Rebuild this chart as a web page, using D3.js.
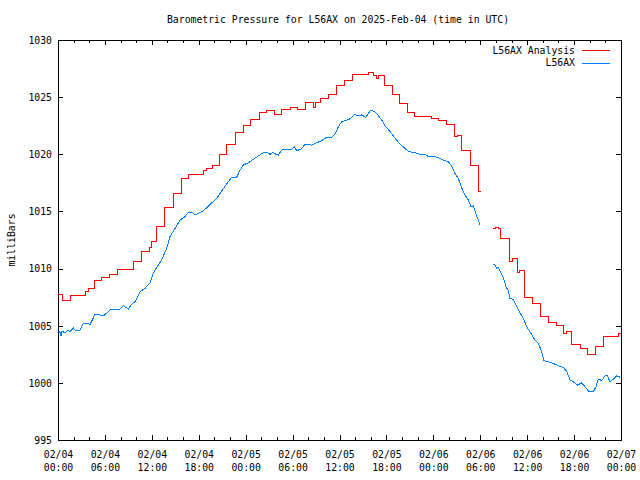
<!DOCTYPE html>
<html>
<head>
<meta charset="utf-8">
<script src="https://cdn.jsdelivr.net/npm/d3@7/dist/d3.min.js"></script>
<style>
  html, body { margin: 0; padding: 0; background: #fff; }
  svg { display: block; }
  text { font-family: "DejaVu Sans Mono", "Liberation Mono", monospace; font-size: 9.8px; fill: #000; }
</style>
</head>
<body>
<svg id="chart" width="640" height="480"></svg>
<script>
// ---- Data (hours since 2025-02-04 00:00 UTC) ----
const titleText = "Barometric Pressure for L56AX on 2025-Feb-04 (time in UTC)";
const yLabel = "milliBars";
const seriesNames = ["L56AX Analysis", "L56AX"];
const yTicks = [995, 1000, 1005, 1010, 1015, 1020, 1025, 1030];

// Analysis (step series); null marks the data gap
const redHours = [0.04, 0.55, 1.66, 3.58, 3.84, 4.64, 5.59, 6.65, 7.63, 9.68, 10.7, 11.64, 12.02, 12.62, 13.68, 14.74, 15.73, 16.66,
  18.67, 19.05, 19.82, 20.59, 21.57, 22.64, 23.7, 24.68, 25.74, 26.69, 27.66, 28.61, 29.67, 30.65, 31.68, 32.65, 32.96, 33.63, 34.57,
  35.66, 36.7, 37.69, 39.68, 40.41, 40.76, 41.05, 41.73, 42.75, 43.61, 44.72, 45.57, 47.79, 48.63, 49.71, 50.68, 51.12, 51.63, 52.69,
  53.75, 54.06, 54.5,
  55.6, 56.0, 56.3, 56.62, 57.72, 58.16, 58.74, 59.08, 59.72, 60.71, 61.73, 62.75, 63.78, 64.62, 65.06, 65.7, 66.76, 67.69, 68.8,
  69.74, 71.66, 72.0];
const redValues = [1007.75, 1007.25, 1007.66, 1008.0, 1008.27, 1009.0, 1009.2, 1009.5, 1009.9, 1010.6, 1011.5, 1011.86, 1012.4, 1013.7, 1015.36, 1016.6, 1017.84, 1018.2,
  1018.6, 1018.8, 1019.0, 1020.0, 1020.9, 1021.95, 1022.5, 1023.06, 1023.64, 1023.87, 1023.5, 1023.94, 1024.1, 1023.94, 1024.55, 1024.1, 1024.55, 1024.9, 1025.2,
  1026.0, 1026.5, 1027.0, 1027.2, 1026.9, 1026.6, 1026.9, 1026.06, 1025.2, 1024.43, 1023.67, 1023.32, 1023.15, 1023.0, 1022.65, 1021.54, 1021.66, 1020.3, 1019.0,
  1016.73, 1016.73, null,
  1013.5, 1013.6, 1013.5, 1012.65, 1010.6, 1010.9, 1009.64, 1009.8, 1007.5, 1006.96, 1005.85, 1005.3, 1005.06, 1004.33, 1004.48, 1003.4, 1003.0, 1002.5, 1003.2,
  1004.1, 1004.33, 1004.33];

// Observed series; null marks the data gap
const blueHours = [0.04, 0.26, 0.38, 0.51, 0.9, 1.28, 1.53, 1.96, 2.17, 2.81, 3.24, 3.87, 4.09, 4.31, 4.73, 5.15, 5.5, 5.88, 6.23, 6.65,
  7.07, 7.29, 7.93, 8.35, 8.99, 9.43, 9.85, 10.49, 11.13, 11.77, 12.19, 12.62, 13.26, 13.9, 14.32, 14.96, 15.6, 16.24, 16.66, 17.1,
  17.52, 17.9, 18.38, 18.71, 19.44, 20.3, 20.94, 21.57, 22.21, 22.85, 23.28, 23.7, 24.34, 24.98, 25.62, 26.26, 26.69, 27.11, 27.5,
  27.88, 28.17, 28.61, 29.25, 29.89, 30.22, 30.53, 31.17, 31.59, 32.44, 33.08, 33.72, 34.36, 35.0, 35.42, 35.85, 36.28, 36.92, 37.34,
  37.98, 38.4, 38.88, 39.35, 39.68, 40.03, 40.54, 40.96, 41.4, 41.82, 42.46, 43.1, 43.74, 44.38, 44.89, 45.66, 46.3, 46.94, 47.36,
  47.96, 48.63, 49.27, 49.91, 50.35, 50.77, 51.19, 51.54, 52.05, 52.47, 52.82, 53.13, 53.42, 53.75, 53.97, 54.5,
  55.67, 55.88, 56.1, 56.27, 56.53, 56.95, 57.29, 57.59, 57.8, 58.23, 58.66, 59.08, 59.51, 59.94, 60.36, 61.0, 61.42, 61.86, 62.15,
  62.7, 63.34, 63.98, 64.62, 65.06, 65.48, 65.9, 66.41, 66.97, 67.4, 67.91, 68.46, 68.8, 69.1, 69.53, 69.95, 70.25, 70.59, 70.97,
  71.45, 71.87];
const blueValues = [1004.56, 1004.4, 1004.13, 1004.5, 1004.4, 1004.6, 1004.45, 1004.83, 1004.6, 1004.6, 1005.2, 1005.2, 1005.1, 1005.4, 1006.0, 1006.0, 1005.9, 1005.9, 1006.1, 1006.38,
  1006.38, 1006.46, 1006.46, 1006.75, 1006.46, 1006.9, 1007.1, 1007.98, 1008.27, 1008.76, 1009.6, 1010.1, 1010.75, 1011.77, 1012.8, 1013.5, 1014.25, 1014.54, 1014.92, 1014.95,
  1014.7, 1014.8, 1014.98, 1015.13, 1015.6, 1016.15, 1016.8, 1017.4, 1017.99, 1018.0, 1018.6, 1019.06, 1019.26, 1019.56, 1019.85, 1020.14, 1020.2, 1020.0, 1020.15,
  1020.0, 1019.94, 1020.37, 1020.4, 1020.45, 1020.67, 1020.3, 1020.5, 1020.9, 1020.8, 1021.0, 1021.2, 1021.5, 1021.5, 1021.75, 1022.4, 1022.85, 1023.0, 1023.1,
  1023.5, 1023.35, 1023.45, 1023.2, 1023.58, 1023.87, 1023.7, 1023.4, 1023.0, 1022.5, 1021.98, 1021.4, 1020.9, 1020.5, 1020.23, 1020.14, 1020.0, 1019.98, 1019.8,
  1019.85, 1019.7, 1019.5, 1019.35, 1018.97, 1018.33, 1017.9, 1017.2, 1016.44, 1016.0, 1015.4, 1015.5, 1014.83, 1014.25, 1013.8, null,
  1010.37, 1010.3, 1010.0, 1010.1, 1009.8, 1009.24, 1008.4, 1008.1, 1007.4, 1007.3, 1006.67, 1006.14, 1005.65, 1004.9, 1004.48, 1003.75, 1003.46, 1002.73, 1001.94,
  1001.85, 1001.7, 1001.5, 1001.36, 1001.0, 1000.25, 1000.1, 999.8, 1000.0, 999.66, 999.23, 999.23, 999.66, 1000.34, 1000.2, 1000.6, 1000.65, 1000.1, 1000.3,
  1000.6, 1000.5];

// ---- Layout ----
const svg = d3.select("#chart");
const L = 58, R = 621, T = 40, B = 440;
const t0 = Date.UTC(2025, 1, 4);
const toDate = h => new Date(t0 + h * 3600e3);

const x = d3.scaleUtc().domain([new Date(t0), toDate(72)]).range([L, R]);
const y = d3.scaleLinear().domain([995, 1030]).range([B, T]);

const majorTicks = d3.utcHour.every(6).range(new Date(t0), toDate(72.01));
const minorTicks = d3.utcHour.every(2).range(new Date(t0), toDate(72.01)).filter(d => d.getUTCHours() % 6 !== 0);

function styleAxis(g) {
  g.select(".domain").remove();
  g.selectAll("line").attr("stroke", "#000").attr("shape-rendering", "crispEdges");
  g.attr("font-family", null).attr("font-size", null);
}

// bottom axis major with labels
const gb = svg.append("g").attr("transform", `translate(0,${B})`)
  .call(d3.axisBottom(x).tickValues(majorTicks).tickSize(-5).tickPadding(0).tickFormat(d3.utcFormat("%m/%d")))
  .call(styleAxis);
gb.selectAll(".tick text").each(function(d) {
  const t = d3.select(this);
  t.text(null).attr("y", null).attr("dy", null);
  t.append("tspan").attr("x", 0).attr("y", 18).text(d3.utcFormat("%m/%d")(d));
  t.append("tspan").attr("x", 0).attr("y", 31).text(d3.utcFormat("%H:%M")(d));
});
svg.append("g").attr("transform", `translate(0,${B})`)
  .call(d3.axisBottom(x).tickValues(minorTicks).tickSize(-3).tickFormat(""))
  .call(styleAxis);
// top axis (mirror)
svg.append("g").attr("transform", `translate(0,${T})`)
  .call(d3.axisTop(x).tickValues(majorTicks).tickSize(-5).tickFormat(""))
  .call(styleAxis);
svg.append("g").attr("transform", `translate(0,${T})`)
  .call(d3.axisTop(x).tickValues(minorTicks).tickSize(-3).tickFormat(""))
  .call(styleAxis);
// left axis
const gl = svg.append("g").attr("transform", `translate(${L},0)`)
  .call(d3.axisLeft(y).tickValues(yTicks).tickSize(-5).tickPadding(6).tickFormat(d3.format("d")))
  .call(styleAxis);
gl.selectAll(".tick text").attr("dy", "0.34em");
// right axis (mirror)
svg.append("g").attr("transform", `translate(${R},0)`)
  .call(d3.axisRight(y).tickValues(yTicks).tickSize(-5).tickFormat(""))
  .call(styleAxis);

// frame
svg.append("rect").attr("x", L).attr("y", T).attr("width", R - L).attr("height", B - T)
  .attr("fill", "none").attr("stroke", "#000").attr("stroke-width", 1).attr("shape-rendering", "crispEdges");

// series
const colors = ["#ff0000", "#0080ff"];
const redData = redHours.map((h, i) => ({ t: toDate(h), v: redValues[i] }));
const blueData = blueHours.map((h, i) => ({ t: toDate(h), v: blueValues[i] }));

const stepLine = d3.line().defined(d => d.v !== null).x(d => x(d.t)).y(d => y(d.v)).curve(d3.curveStepAfter);
const plainLine = d3.line().defined(d => d.v !== null).x(d => x(d.t)).y(d => y(d.v));

svg.append("path").datum(blueData).attr("d", plainLine)
  .attr("fill", "none").attr("stroke", colors[1]).attr("stroke-width", 1).attr("shape-rendering", "crispEdges");
svg.append("path").datum(redData).attr("d", stepLine)
  .attr("fill", "none").attr("stroke", colors[0]).attr("stroke-width", 1).attr("shape-rendering", "crispEdges");

// title
svg.append("text").attr("x", 338).attr("y", 23).attr("text-anchor", "middle").text(titleText);
// y label
svg.append("text").attr("transform", "translate(15,240) rotate(-90)").attr("text-anchor", "middle").text(yLabel);

// legend
const legend = svg.append("g");
seriesNames.forEach((name, i) => {
  const ly = 50.5 + i * 12.5;
  legend.append("text").attr("x", 575).attr("y", ly).attr("dy", "0.34em").attr("text-anchor", "end").text(name);
  legend.append("line").attr("x1", 582).attr("x2", 610).attr("y1", ly).attr("y2", ly)
    .attr("stroke", colors[i]).attr("stroke-width", 1).attr("shape-rendering", "crispEdges");
});
</script>
</body>
</html>
